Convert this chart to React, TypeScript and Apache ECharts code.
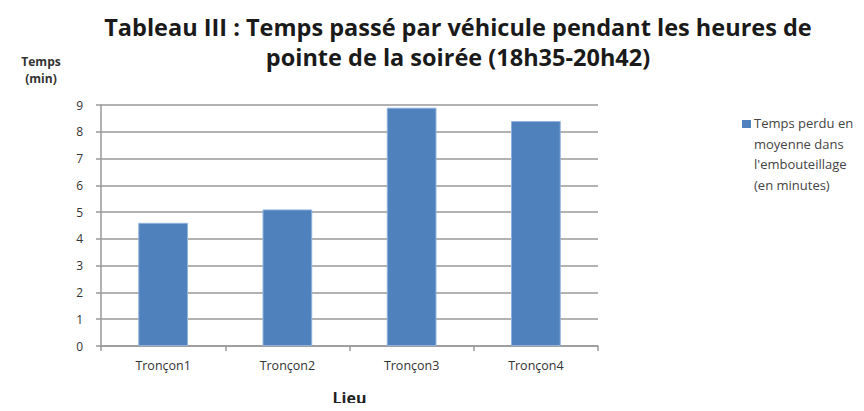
import React, { useEffect, useRef } from "react";
import * as echarts from "echarts";

const categories = ["Tronçon1", "Tronçon2", "Tronçon3", "Tronçon4"];
const values = [4.6, 5.1, 8.9, 8.4];
const seriesName = "Temps perdu en\nmoyenne dans\nl'embouteillage\n(en minutes)";
const titleLines = [
  "Tableau III : Temps passé par véhicule pendant les heures de",
  "pointe de la soirée (18h35-20h42)",
];
const yAxisTitle = "Temps\n(min)";
const xAxisTitle = "Lieu";

const FONT = "'Open Sans', sans-serif";
const BAR_COLOR = "#4F81BD";

export default function App() {
  const ref = useRef<HTMLDivElement>(null);
  useEffect(() => {
    if (!ref.current) return;
    const chart = echarts.init(ref.current, undefined, { renderer: "svg" });
    chart.setOption({
      animation: false,
      backgroundColor: "#fff",
      textStyle: { fontFamily: FONT },
      title: {
        text: titleLines.join("\n"),
        left: 458,
        top: 12,
        padding: 0,
        textAlign: "center",
        textStyle: {
          fontFamily: FONT,
          fontSize: 23.5,
          fontWeight: "bold",
          color: "#1a1a1a",
          lineHeight: 30,
        },
      },
      grid: { left: 101, right: 266, top: 105, bottom: 59 },
      xAxis: {
        type: "category",
        data: categories,
        name: xAxisTitle,
        nameLocation: "middle",
        nameGap: 44,
        nameTextStyle: { fontFamily: FONT, fontSize: 16, fontWeight: "bold", color: "#222" },
        axisLine: { lineStyle: { color: "#999", width: 1.5 } },
        axisTick: { show: true, length: 5, lineStyle: { color: "#999", width: 1.5 } },
        axisLabel: { fontFamily: FONT, fontSize: 12.5, color: "#333", margin: 13 },
      },
      yAxis: {
        type: "value",
        min: 0,
        max: 9,
        interval: 1,
        axisLine: { show: true, lineStyle: { color: "#999", width: 1.5 } },
        axisTick: { show: true, length: 5, lineStyle: { color: "#999", width: 1.5 } },
        axisLabel: { fontFamily: FONT, fontSize: 12, color: "#333", margin: 18 },
        splitLine: { lineStyle: { color: "#999", width: 1.5 } },
      },
      graphic: [
        {
          type: "text",
          x: 41,
          y: 53,
          style: {
            text: yAxisTitle,
            font: `bold 12px ${FONT}`,
            fill: "#333",
            align: "center",
            lineHeight: 17,
          },
        },
        {
          type: "rect",
          shape: { x: 742, y: 120, width: 9, height: 8 },
          style: { fill: BAR_COLOR },
        },
        {
          type: "text",
          x: 754,
          y: 113,
          style: {
            text: seriesName,
            font: `13px ${FONT}`,
            fill: "#444",
            lineHeight: 20.5,
          },
        },
      ],
      series: [
        {
          name: seriesName,
          type: "bar",
          data: values,
          barWidth: "40%",
          itemStyle: { color: BAR_COLOR, borderColor: "#8fb2dc", borderWidth: 1 },
        },
      ],
    });
    return () => chart.dispose();
  }, []);
  return <div ref={ref} style={{ width: 864, height: 411, margin: -8 }} />;
}
